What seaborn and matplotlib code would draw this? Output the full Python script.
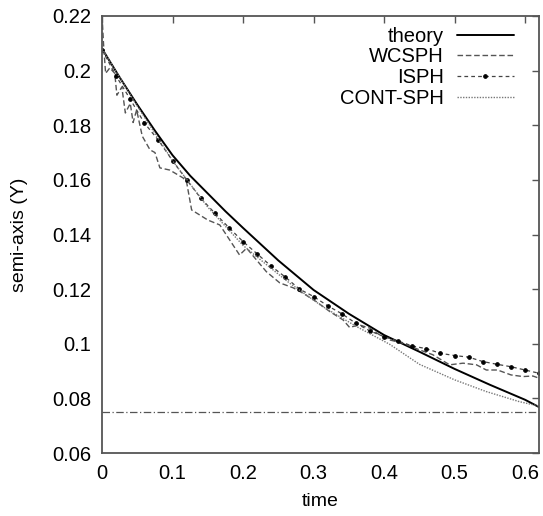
import matplotlib
matplotlib.use("Agg")
import matplotlib.pyplot as plt
from matplotlib.ticker import FuncFormatter, MultipleLocator
import pandas as pd
import seaborn as sns

sns.set_style("white")
plt.rcParams["font.family"] = ["Liberation Sans", "DejaVu Sans"]
plt.rcParams["text.color"] = "black"
plt.rcParams["axes.labelcolor"] = "black"

# values
theory_t = [0.0, 0.025, 0.05, 0.075, 0.1, 0.125, 0.15, 0.175, 0.2, 0.25, 0.3, 0.35,
            0.4, 0.45, 0.5, 0.55, 0.6, 0.62]
theory_y = [0.208, 0.1975, 0.1875, 0.178, 0.169, 0.1615, 0.155, 0.1485, 0.1424,
            0.1305, 0.1197, 0.111, 0.1032, 0.0971, 0.0908, 0.085, 0.0795, 0.0768]

wcsph_t = [0.0, 0.002, 0.005, 0.011, 0.018, 0.021, 0.028, 0.033, 0.040, 0.044,
           0.049, 0.057, 0.068, 0.075, 0.082, 0.096, 0.115, 0.120, 0.127, 0.150,
           0.167, 0.195, 0.205, 0.219, 0.233, 0.252, 0.271, 0.285, 0.304, 0.323,
           0.342, 0.351, 0.365, 0.380, 0.394, 0.408, 0.427, 0.450, 0.469, 0.493,
           0.512, 0.531, 0.545, 0.561, 0.580, 0.597, 0.611, 0.620]
wcsph_y = [0.220, 0.210, 0.199, 0.201, 0.199, 0.191, 0.194, 0.1845, 0.188, 0.181,
           0.1856, 0.176, 0.171, 0.170, 0.1644, 0.1636, 0.1607, 0.159, 0.149, 0.1453,
           0.1435, 0.1325, 0.135, 0.1307, 0.1264, 0.1223, 0.1205, 0.1185, 0.1154, 0.1118,
           0.1087, 0.106, 0.1069, 0.1057, 0.1032, 0.1014, 0.1002, 0.0978, 0.096, 0.0923,
           0.0929, 0.0923, 0.0904, 0.0904, 0.0886, 0.088, 0.0882, 0.0874]

isph_t = [0.0, 0.02, 0.04, 0.06, 0.08, 0.10, 0.12, 0.14, 0.16, 0.18, 0.20, 0.22,
          0.24, 0.26, 0.28, 0.30, 0.32, 0.34, 0.36, 0.38, 0.40, 0.42, 0.44, 0.46,
          0.48, 0.50, 0.52, 0.54, 0.56, 0.58, 0.60, 0.62]
isph_y = [0.2076, 0.198, 0.1895, 0.1808, 0.1745, 0.167, 0.160, 0.1533, 0.1478, 0.1425,
          0.1374, 0.1329, 0.1284, 0.1244, 0.1200, 0.1173, 0.1139, 0.1110, 0.1075, 0.1047,
          0.1026, 0.1010, 0.0992, 0.0982, 0.0965, 0.0957, 0.0951, 0.0935, 0.0925, 0.0916,
          0.0904, 0.0892]

cont_t = [0.0, 0.05, 0.1, 0.15, 0.2, 0.233, 0.266, 0.313, 0.361, 0.408, 0.45, 0.5,
          0.545, 0.592, 0.62]
cont_y = [0.208, 0.187, 0.167, 0.150, 0.136, 0.129, 0.1222, 0.1136, 0.1063, 0.0998,
          0.0925, 0.0868, 0.0825, 0.0788, 0.0772]

limit_y = 0.075
xlim = (0, 0.62)

fig = plt.figure(figsize=(5.43, 5.16), dpi=100)
ax = fig.add_axes([0.188, 0.122, 0.805, 0.847])

theory = pd.DataFrame({"time": theory_t, "y": theory_y})
wcsph = pd.DataFrame({"time": wcsph_t, "y": wcsph_y})
isph = pd.DataFrame({"time": isph_t, "y": isph_y})
cont = pd.DataFrame({"time": cont_t, "y": cont_y})

sns.lineplot(theory, x="time", y="y", ax=ax, color="black", lw=1.4, label="theory")
sns.lineplot(wcsph, x="time", y="y", ax=ax, color="#555555", lw=1.0,
             linestyle=(0, (4, 2)), label="WCSPH", sort=False)
sns.lineplot(isph, x="time", y="y", ax=ax, color="#444444", lw=0.9,
             linestyle=(0, (3, 2.5)), marker="o", markersize=2.6,
             markerfacecolor="black", markeredgecolor="black", label="ISPH")
sns.lineplot(cont, x="time", y="y", ax=ax, color="#777777", lw=1.0,
             linestyle=(0, (1, 1)), label="CONT-SPH")
ax.axhline(limit_y, color="#555555", lw=0.9, linestyle=(0, (6, 2, 1, 2)))

ax.set_xlim(*xlim)
ax.set_ylim(0.06, 0.22)
ax.xaxis.set_major_locator(MultipleLocator(0.1))
ax.yaxis.set_major_locator(MultipleLocator(0.02))
fmt = FuncFormatter(lambda v, p: f"{v:g}" if abs(v) > 1e-9 else "0")
ax.xaxis.set_major_formatter(fmt)
ax.yaxis.set_major_formatter(fmt)
ax.tick_params(direction="in", length=5, width=1.0, color="#555555",
               labelcolor="black", top=True, right=True, labelsize=14.5, pad=8)
for s in ax.spines.values():
    s.set_color("#555555")
    s.set_linewidth(1.3)

ax.set_xlabel("time", fontsize=14, labelpad=7)
ax.set_ylabel("semi-axis (Y)", fontsize=14, labelpad=17)

ax.legend(loc="upper right", bbox_to_anchor=(0.952, 0.985), borderaxespad=0,
          borderpad=0.2, frameon=False, markerfirst=False, fontsize=14.5,
          handlelength=2.85, labelspacing=0.09, handletextpad=0.65)

plt.savefig("out.png", dpi=100)
